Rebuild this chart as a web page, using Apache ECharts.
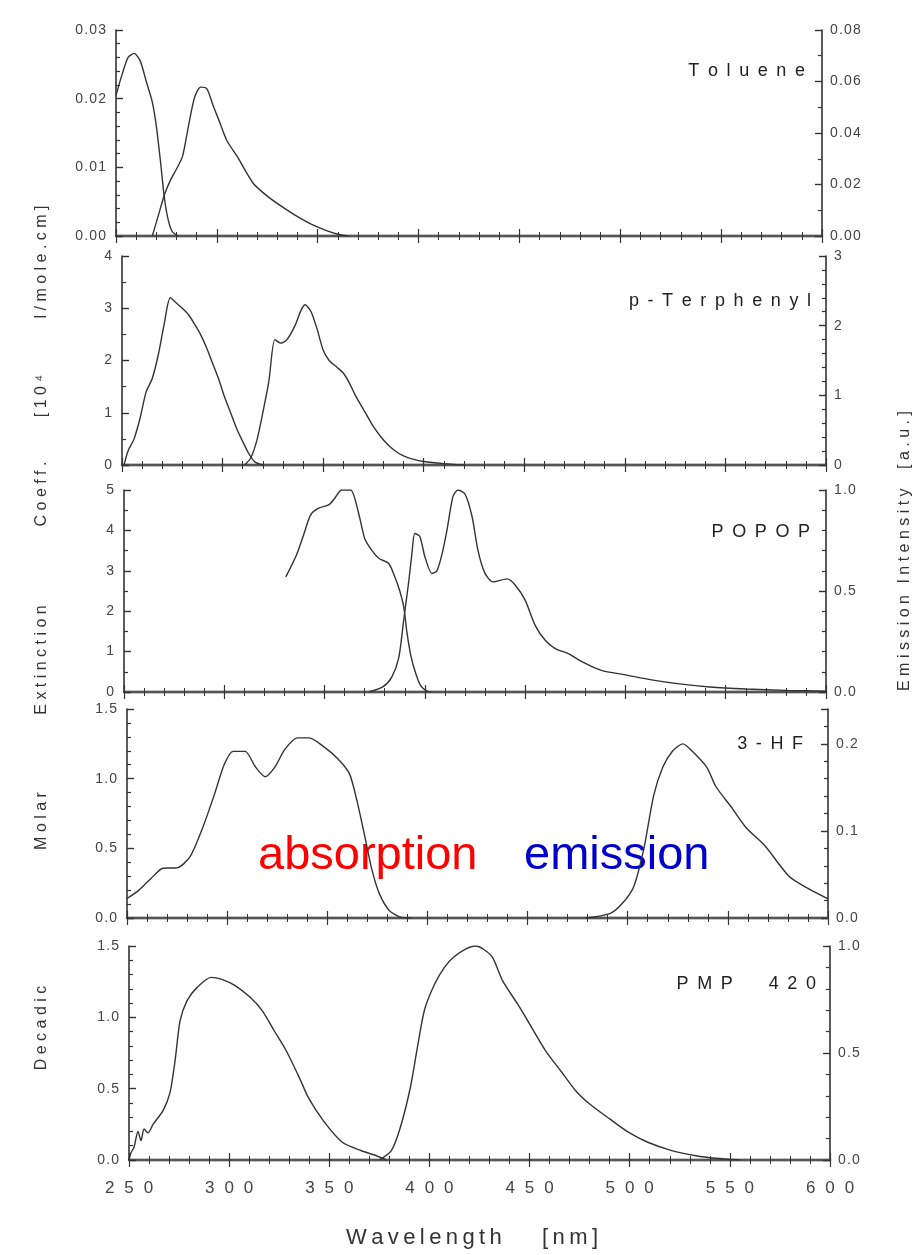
<!DOCTYPE html>
<html><head><meta charset="utf-8">
<script src="https://cdn.jsdelivr.net/npm/echarts@6/dist/echarts.min.js"></script>
<style>html,body{margin:0;padding:0;background:#fff}#c{width:924px;height:1255px}</style>
</head><body><div id="c"></div>
<script>
// ---------- data (wavelength in nm) ----------
const panelNames = ['Toluene', 'p-Terphenyl', 'POPOP', '3-HF', 'PMP  420'];
const wavelengthRange = [250, 600];

// Toluene (absorption: left axis, emission: right axis)
const tolueneAbsNm = [250, 253, 256, 259, 262, 265, 268, 270, 272, 274, 276, 278, 281];
const tolueneAbs   = [0.0205, 0.0235, 0.026, 0.0266, 0.0255, 0.0225, 0.0195, 0.016, 0.011, 0.0055, 0.0022, 0.0006, 0];
const tolueneEmNm  = [268, 271, 274, 277, 280, 283, 286, 289, 292, 295, 298, 301, 305, 310, 318, 325, 333, 340, 347, 354, 360, 365];
const tolueneEm    = [0, 0.008, 0.016, 0.0217, 0.026, 0.031, 0.043, 0.054, 0.0578, 0.0572, 0.051, 0.045, 0.037, 0.031, 0.0205, 0.0155, 0.011, 0.0075, 0.0045, 0.0022, 0.0007, 0];

// p-Terphenyl
const pTerAbsNm = [251, 253, 256, 259, 262, 265, 268, 271, 274, 277, 280, 283, 286, 289, 292, 295, 298, 301, 304, 307, 310, 313, 316, 320];
const pTerAbs   = [0, 0.27, 0.5, 0.9, 1.4, 1.65, 2.1, 2.7, 3.2, 3.1, 3.0, 2.88, 2.7, 2.5, 2.25, 1.95, 1.65, 1.3, 1.0, 0.7, 0.45, 0.22, 0.06, 0];
const pTerEmNm  = [311, 314, 317, 320, 323, 326, 329, 332, 336, 339, 341, 344, 347, 350, 353, 357, 360, 363, 366, 370, 375, 380, 385, 390, 395, 400, 410, 420];
const pTerEm    = [0, 0.1, 0.35, 0.75, 1.2, 1.8, 1.75, 1.8, 2.0, 2.22, 2.3, 2.2, 1.95, 1.65, 1.5, 1.4, 1.32, 1.18, 1.0, 0.8, 0.55, 0.36, 0.22, 0.13, 0.08, 0.05, 0.02, 0];

// POPOP
const popopAbsNm = [330.7, 336, 339.5, 343, 347, 352, 355, 358.5, 363, 367, 370, 373.5, 377, 382, 385, 387.5, 389.5, 391, 393, 395.5, 398, 401, 403];
const popopAbs   = [2.85, 3.39, 3.88, 4.38, 4.55, 4.63, 4.79, 5.0, 5.0, 4.42, 3.8, 3.51, 3.31, 3.18, 2.85, 2.5, 2.1, 1.5, 0.9, 0.45, 0.15, 0.02, 0];
const popopEmNm  = [372, 379, 383.5, 387, 389.5, 392, 393.5, 395, 397.5, 400, 403.5, 406, 408.5, 411, 414, 416.5, 420, 423.5, 426.5, 430, 434, 441, 445, 450, 455, 460, 465, 471.5, 478.5, 488, 500, 513, 527, 542, 560, 580, 600];
const popopEm    = [0, 0.025, 0.074, 0.17, 0.36, 0.55, 0.68, 0.785, 0.77, 0.67, 0.587, 0.6, 0.68, 0.8, 0.967, 1.0, 0.98, 0.87, 0.7, 0.587, 0.545, 0.56, 0.53, 0.455, 0.33, 0.256, 0.215, 0.19, 0.149, 0.107, 0.085, 0.06, 0.04, 0.025, 0.015, 0.008, 0.004];

// 3-HF
const hfAbsNm = [250, 256, 262, 268, 275, 281.5, 287.5, 293.5, 298.5, 303, 309, 314, 319, 324, 328.7, 335, 341, 348, 355, 361, 365, 368.7, 372.3, 376, 381, 387, 392];
const hfAbs   = [0.14, 0.2, 0.284, 0.357, 0.36, 0.44, 0.637, 0.88, 1.1, 1.196, 1.196, 1.087, 1.014, 1.087, 1.208, 1.293, 1.293, 1.232, 1.147, 1.038, 0.83, 0.588, 0.345, 0.175, 0.053, 0.005, 0];
const hfEmNm  = [479, 491, 497, 503, 508, 513, 517.5, 522.5, 527.5, 532, 539.5, 544, 551.5, 559, 568.5, 580.5, 590, 600];
const hfEm    = [0, 0.005, 0.016, 0.036, 0.079, 0.141, 0.173, 0.192, 0.2, 0.192, 0.173, 0.151, 0.128, 0.104, 0.083, 0.048, 0.034, 0.022];

// PMP 420
const pmpAbsNm = [250, 251, 252.5, 254.5, 256, 257.5, 259.5, 262, 267, 270.5, 273, 275.5, 279, 284, 291, 296, 303, 310.5, 316.5, 322.5, 328.5, 335, 339.5, 347, 356.5, 366, 373.5, 378.5];
const pmpAbs   = [0, 0.05, 0.09, 0.2, 0.135, 0.217, 0.19, 0.25, 0.346, 0.474, 0.696, 0.976, 1.117, 1.21, 1.28, 1.268, 1.222, 1.14, 1.047, 0.906, 0.766, 0.579, 0.439, 0.276, 0.124, 0.065, 0.03, 0];
const pmpEmNm  = [375, 381, 385.5, 390.5, 394, 397.5, 402.5, 407.5, 412, 418, 423, 427, 431.5, 436.5, 444, 451, 458, 465.5, 473, 480, 490, 499.5, 509, 521, 533, 543, 555];
const pmpEm    = [0, 0.044, 0.153, 0.34, 0.526, 0.7, 0.82, 0.9, 0.947, 0.985, 1.0, 0.985, 0.947, 0.838, 0.729, 0.62, 0.51, 0.417, 0.324, 0.262, 0.192, 0.129, 0.083, 0.044, 0.02, 0.008, 0];

// axis ranges
const leftAxes  = [{max: 0.03, interval: 0.01, dec: 2, minor: 5}, {max: 4, interval: 1, dec: 0, minor: 2}, {max: 5, interval: 1, dec: 0, minor: 2}, {max: 1.5, interval: 0.5, dec: 1, minor: 5}, {max: 1.5, interval: 0.5, dec: 1, minor: 5}];
const rightAxes = [{max: 0.08, interval: 0.02, dec: 2, minor: 2}, {max: 3, interval: 1, dec: 0, minor: 5}, {max: 1.0, interval: 0.5, dec: 1, minor: 5}, {max: 0.24, interval: 0.1, dec: 1, minor: 5}, {max: 1.0, interval: 0.5, dec: 1, minor: 5}];

// ---------- layout ----------
const boxes = [
  {left: 116, right: 102, top: 30, height: 206},
  {left: 122, right: 98, top: 256, height: 209},
  {left: 124, right: 98, top: 490, height: 202},
  {left: 127, right: 96, top: 709, height: 209},
  {left: 129, right: 94, top: 946, height: 214}
];
const nameBoxes = [[805, 71], [811, 301], [810, 532], [803, 744], [816, 984]];

const spaced = (s, sep) => s.split('').join(sep);
const absSets = [[tolueneAbsNm, tolueneAbs], [pTerAbsNm, pTerAbs], [popopAbsNm, popopAbs], [hfAbsNm, hfAbs], [pmpAbsNm, pmpAbs]];
const emSets  = [[tolueneEmNm, tolueneEm], [pTerEmNm, pTerEm], [popopEmNm, popopEm], [hfEmNm, hfEm], [pmpEmNm, pmpEm]];

const lineC = '#333';
const tickFont = {fontFamily: '"Liberation Sans Narrow", "Liberation Sans", Arial, sans-serif', fontSize: 14, color: '#444'};

const grid = [], xAxis = [], yAxis = [], series = [];
boxes.forEach((b, i) => {
  grid.push({left: b.left, right: b.right, top: b.top, height: b.height, containLabel: false});
  const xBase = {
    type: 'value', gridIndex: i, min: wavelengthRange[0], max: wavelengthRange[1], interval: 50,
    axisLine: {show: true, lineStyle: {color: '#555', width: 2}},
    axisTick: {show: true, inside: true, length: 7, lineStyle: {color: lineC, width: 1.2}},
    minorTick: {show: true, splitNumber: 5, length: 4, lineStyle: {color: lineC, width: 1}},
    splitLine: {show: false}
  };
  xAxis.push(Object.assign({}, xBase, {
    position: 'bottom',
    axisLine: {show: true, lineStyle: {color: '#111', width: 2.4}},
    axisLabel: i === 4 ? Object.assign({show: true, margin: 20, formatter: v => spaced(String(v), '\u2002\u200A')}, tickFont, {fontSize: 17, color: '#444'}) : {show: false}
  }));
  xAxis.push(Object.assign({}, xBase, {position: 'top', axisLabel: {show: false}}));
  const la = leftAxes[i], ra = rightAxes[i];
  yAxis.push({
    type: 'value', gridIndex: i, position: 'left', min: 0, max: la.max, interval: la.interval,
    axisLine: {show: true, lineStyle: {color: lineC, width: 1.6}},
    axisTick: {show: true, inside: true, length: 7, lineStyle: {color: lineC, width: 1.4}},
    minorTick: {show: true, splitNumber: la.minor, length: 4, lineStyle: {color: lineC, width: 1.2}},
    splitLine: {show: false},
    axisLabel: Object.assign({margin: 10, formatter: v => spaced(v.toFixed(la.dec), '\u200A')}, tickFont)
  });
  yAxis.push({
    type: 'value', gridIndex: i, position: 'right', min: 0, max: ra.max, interval: ra.interval,
    axisLine: {show: true, lineStyle: {color: lineC, width: 1.6}},
    axisTick: {show: true, inside: true, length: 7, lineStyle: {color: lineC, width: 1.4}},
    minorTick: {show: true, splitNumber: ra.minor, length: 4, lineStyle: {color: lineC, width: 1.2}},
    splitLine: {show: false},
    axisLabel: Object.assign({margin: 8, showMaxLabel: i !== 3, formatter: v => spaced(v.toFixed(ra.dec), '\u200A')}, tickFont)
  });
  const mk = (set, yIdx) => ({
    type: 'line', xAxisIndex: i * 2, yAxisIndex: yIdx, symbol: 'none', smooth: 0.25,
    lineStyle: {color: '#333', width: 1.4}, data: set[0].map((x, k) => [x, set[1][k]])
  });
  series.push(mk(absSets[i], i * 2));
  series.push(mk(emSets[i], i * 2 + 1));
});

// ---------- texts ----------
const graphic = [];
panelNames.forEach((n, i) => {
  const txt = n.split('  ').map(w => spaced(w, ' \u2009')).join('\u2003\u2003');
  graphic.push({type: 'text', x: nameBoxes[i][0], y: nameBoxes[i][1], style: {text: txt, align: 'right', verticalAlign: 'middle', fill: '#222', font: '18px "Liberation Sans Narrow", "Liberation Sans", sans-serif'}});
});
const leftWords = [['Decadic', 1028], ['Molar', 821], ['Extinction', 660], ['Coeff.', 494], ['[10\u2074', 396], ['l/mole.cm]', 262]];
leftWords.forEach(([w, y]) => graphic.push({type: 'text', x: 42, y: y, rotation: Math.PI / 2, style: {text: spaced(w, ' '), align: 'center', verticalAlign: 'middle', fill: '#333', font: '16px "Liberation Sans", Arial, sans-serif'}}));
const rightWords = [['Emission', 643], ['Intensity', 536], ['[a.u.]', 440]];
rightWords.forEach(([w, y]) => graphic.push({type: 'text', x: 905, y: y, rotation: Math.PI / 2, style: {text: spaced(w, ' '), align: 'center', verticalAlign: 'middle', fill: '#333', font: '16px "Liberation Sans", Arial, sans-serif'}}));
graphic.push({type: 'text', x: 346, y: 1238, style: {text: spaced('Wavelength', '\u2009'), align: 'left', verticalAlign: 'middle', fill: '#333', font: '22px "Liberation Sans Narrow", "Liberation Sans", sans-serif'}});
graphic.push({type: 'text', x: 542, y: 1238, style: {text: spaced('[nm]', '\u2009'), align: 'left', verticalAlign: 'middle', fill: '#333', font: '22px "Liberation Sans Narrow", "Liberation Sans", sans-serif'}});
graphic.push({type: 'text', x: 258, y: 856, style: {text: 'absorption', align: 'left', verticalAlign: 'middle', fill: '#ff0000', font: '47px "Liberation Sans", Arial, sans-serif'}});
graphic.push({type: 'text', x: 524, y: 856, style: {text: 'emission', align: 'left', verticalAlign: 'middle', fill: '#0000cc', font: '47px "Liberation Sans", Arial, sans-serif'}});

const chart = echarts.init(document.getElementById('c'), null, {renderer: 'canvas'});
chart.setOption({animation: false, backgroundColor: '#fff', grid, xAxis, yAxis, series, graphic});
</script>
</body></html>
